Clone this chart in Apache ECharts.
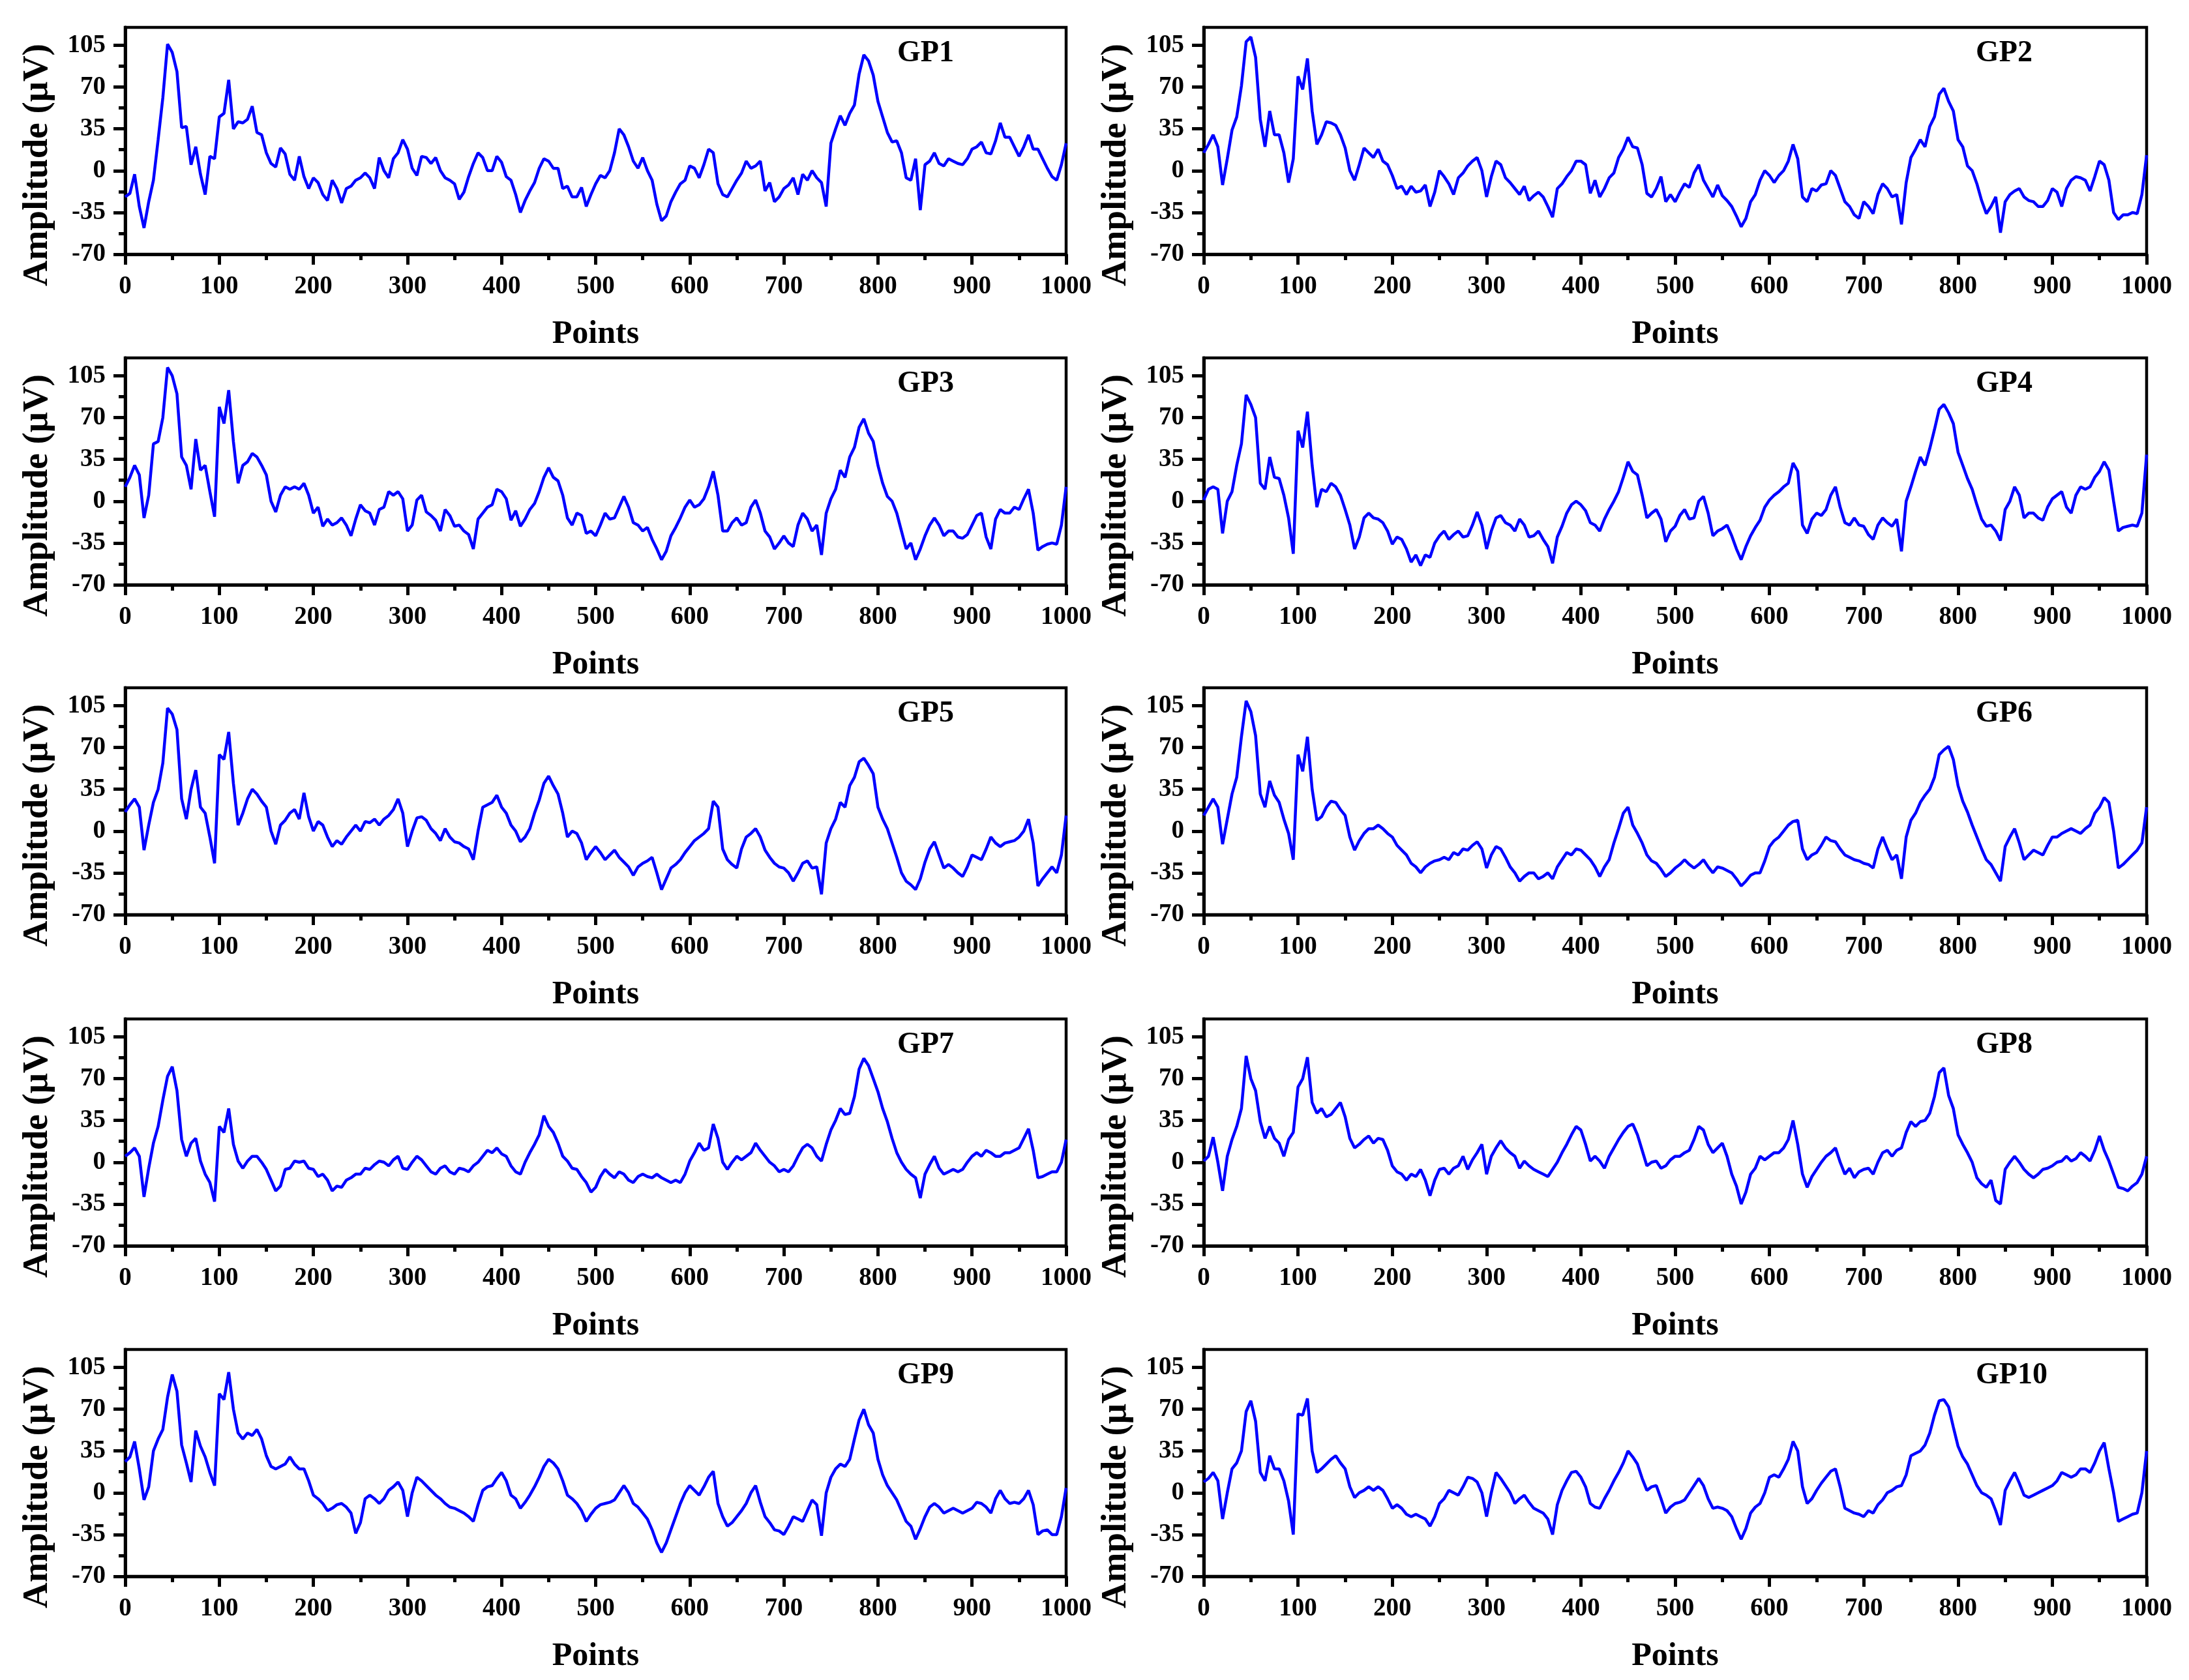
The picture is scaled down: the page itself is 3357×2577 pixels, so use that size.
<!DOCTYPE html>
<html>
<head>
<meta charset="utf-8">
<script src="https://cdn.jsdelivr.net/npm/echarts@6.0.0/dist/echarts.min.js"></script>
<style>
html,body{margin:0;padding:0;background:#fff;}
#chart{width:3357px;height:2577px;}
</style>
</head>
<body>
<div id="chart"></div>
<script>
// ---------- DATA ----------
const POINTS = [0,5,10,15,20,25,30,35,40,45,50,55,60,65,70,75,80,85,90,95,
100,105,110,115,120,125,130,135,140,145,150,155,160,165,170,175,180,185,190,195,
200,205,210,215,220,225,230,235,240,245,250,255,260,265,270,275,280,285,290,295,
300,305,310,315,320,325,330,335,340,345,350,355,360,365,370,375,380,385,390,395,
400,405,410,415,420,425,430,435,440,445,450,455,460,465,470,475,480,485,490,495,
500,505,510,515,520,525,530,535,540,545,550,555,560,565,570,575,580,585,590,595,
600,605,610,615,620,625,630,635,640,645,650,655,660,665,670,675,680,685,690,695,
700,705,710,715,720,725,730,735,740,745,750,755,760,765,770,775,780,785,790,795,
800,805,810,815,820,825,830,835,840,845,850,855,860,865,870,875,880,885,890,895,
900,905,910,915,920,925,930,935,940,945,950,955,960,965,970,975,980,985,990,995,
1000];

const TITLES = ['GP1','GP2','GP3','GP4','GP5','GP6','GP7','GP8','GP9','GP10'];
const Y_MAJOR = [-70,-35,0,35,70,105];
const Y_MINOR = [-52.5,-17.5,17.5,52.5,87.5];

const GP1 = [
-22,-19,-3,-30,-48,-26,-8,26,61,106,99,83,36,37,5,20,-3,-20,12,10,
45,48,76,35,41,40,43,54,32,30,15,6,3,19,14,-3,-8,12,-5,-15,
-6,-10,-20,-25,-8,-15,-27,-15,-13,-8,-6,-2,-6,-15,11,0,-6,10,15,26,
18,2,-4,12,11,6,11,0,-6,-8,-11,-24,-18,-5,6,15,11,0,0,12,
7,-5,-8,-20,-35,-25,-17,-10,2,10,8,2,2,-15,-13,-22,-22,-14,-30,-20,
-11,-4,-6,0,15,35,30,20,8,2,11,0,-8,-28,-42,-38,-26,-18,-11,-8,
4,2,-6,5,18,15,-11,-20,-22,-15,-8,-2,8,2,4,8,-17,-10,-26,-22,
-15,-12,-6,-20,-3,-8,0,-6,-10,-30,23,35,46,38,48,55,81,97,92,80,
58,45,32,24,25,15,-6,-8,10,-33,5,8,15,6,4,10,8,6,5,10,
18,20,24,15,14,25,40,28,28,20,12,20,30,18,18,10,2,-5,-8,5,
23];
const GP2 = [
15,22,30,20,-12,10,34,45,71,108,112,95,43,20,50,30,30,15,-10,10,
79,68,94,50,22,30,41,40,38,30,19,0,-8,5,19,15,11,18,8,5,
-4,-15,-13,-20,-13,-18,-17,-12,-30,-18,0,-5,-11,-20,-6,-2,4,8,11,0,
-22,-5,8,5,-6,-10,-15,-20,-13,-25,-21,-18,-22,-30,-39,-15,-11,-5,0,8,
8,5,-19,-8,-22,-15,-6,-2,11,18,28,20,19,5,-19,-22,-15,-5,-26,-20,
-26,-18,-11,-14,-2,5,-8,-15,-22,-12,-21,-25,-30,-38,-47,-40,-26,-20,-8,0,
-4,-10,-4,0,8,22,10,-22,-26,-15,-17,-12,-11,0,-4,-15,-26,-30,-37,-40,
-26,-30,-36,-20,-11,-15,-22,-20,-45,-10,11,18,26,20,37,45,64,69,58,50,
26,20,4,0,-11,-25,-36,-30,-22,-52,-26,-20,-17,-15,-22,-25,-26,-30,-30,-25,
-15,-18,-30,-15,-8,-5,-6,-8,-17,-5,8,5,-8,-35,-41,-37,-37,-35,-36,-20,
13];
const GP3 = [
12,20,30,22,-14,5,48,50,70,112,105,90,37,30,10,52,26,30,8,-13,
79,65,93,50,15,30,33,40,37,30,22,0,-9,5,12,10,12,10,15,5,
-10,-5,-21,-15,-20,-18,-14,-20,-29,-15,-3,-8,-10,-20,-7,-5,8,5,8,2,
-25,-20,1,5,-9,-12,-16,-25,-7,-12,-21,-20,-25,-28,-40,-15,-10,-5,-3,10,
8,2,-16,-8,-21,-15,-7,-2,8,20,28,20,17,5,-14,-20,-10,-12,-27,-25,
-29,-20,-10,-15,-14,-5,4,-5,-18,-20,-25,-22,-32,-40,-49,-42,-29,-22,-14,-5,
1,-5,-3,2,12,25,5,-25,-25,-18,-14,-20,-18,-5,1,-10,-25,-30,-40,-35,
-29,-35,-38,-20,-10,-15,-25,-20,-45,-10,2,10,26,20,37,45,62,69,57,50,
30,15,4,0,-10,-25,-40,-35,-49,-40,-29,-20,-14,-20,-29,-25,-25,-30,-31,-28,
-20,-12,-10,-30,-40,-15,-7,-10,-10,-5,-7,2,10,-10,-41,-38,-36,-35,-36,-20,
12];
const GP4 = [
1,10,12,10,-27,0,8,30,48,89,81,70,15,10,37,20,19,5,-14,-44,
59,45,75,30,-5,10,8,15,12,5,-7,-20,-40,-30,-14,-10,-14,-15,-18,-25,
-36,-30,-32,-40,-51,-45,-54,-45,-47,-35,-29,-25,-32,-28,-25,-30,-29,-20,-9,-20,
-40,-25,-14,-12,-18,-20,-25,-15,-20,-30,-29,-25,-32,-38,-52,-30,-21,-10,-3,0,
-3,-8,-18,-20,-25,-15,-7,0,8,20,33,25,22,5,-14,-10,-7,-15,-34,-25,
-21,-12,-7,-15,-14,0,4,-10,-29,-25,-23,-20,-29,-40,-49,-38,-29,-22,-16,-5,
1,5,8,12,15,32,25,-20,-27,-15,-10,-12,-7,5,12,-5,-18,-20,-14,-20,
-21,-28,-32,-20,-14,-18,-21,-15,-42,0,12,25,37,30,44,60,77,81,74,65,
41,30,19,10,-3,-15,-21,-20,-25,-33,-7,0,12,5,-14,-10,-10,-14,-16,-5,
2,5,8,-5,-10,5,12,10,12,20,25,33,26,0,-25,-22,-21,-20,-21,-10,
39];
const GP5 = [
16,22,27,20,-16,5,24,35,57,103,98,85,27,10,35,51,20,15,-5,-27,
64,60,83,40,5,15,27,35,31,25,20,0,-11,5,9,15,18,10,32,12,
0,8,5,-5,-13,-8,-11,-5,0,5,0,8,7,10,5,10,13,18,27,15,
-13,0,11,12,9,2,-2,-8,2,-5,-9,-10,-13,-15,-24,0,20,22,24,30,
20,15,5,0,-9,-5,2,15,26,40,46,38,31,15,-5,0,-2,-10,-24,-18,
-13,-18,-24,-20,-16,-22,-26,-30,-37,-30,-27,-25,-22,-35,-49,-40,-31,-28,-24,-18,
-13,-8,-5,-2,2,25,20,-15,-24,-28,-31,-15,-5,-2,2,-5,-16,-22,-27,-30,
-31,-35,-42,-35,-27,-25,-31,-30,-53,-10,2,10,24,20,38,45,58,61,55,48,
20,10,2,-10,-22,-35,-42,-45,-49,-40,-26,-15,-9,-20,-31,-28,-31,-35,-38,-30,
-20,-22,-24,-15,-5,-10,-13,-10,-9,-8,-5,0,10,-10,-46,-40,-35,-30,-35,-20,
13];
const GP6 = [
13,20,27,20,-11,10,31,45,79,109,100,80,31,20,42,30,24,10,-2,-24,
64,50,79,35,9,12,20,25,24,18,13,-5,-16,-8,-2,2,2,5,2,-2,
-5,-12,-16,-20,-27,-30,-35,-30,-27,-25,-24,-22,-24,-18,-20,-15,-16,-12,-9,-15,
-31,-20,-13,-15,-22,-30,-35,-42,-38,-35,-35,-40,-38,-35,-40,-30,-24,-18,-20,-15,
-16,-20,-24,-30,-38,-30,-24,-10,2,15,20,5,-2,-10,-20,-25,-27,-32,-38,-35,
-31,-28,-24,-28,-31,-28,-24,-30,-35,-30,-31,-33,-35,-40,-46,-42,-37,-35,-35,-25,
-13,-8,-5,0,5,8,9,-15,-24,-20,-18,-12,-5,-8,-9,-15,-20,-22,-24,-25,
-27,-28,-31,-15,-5,-15,-24,-20,-40,-5,9,15,24,30,35,45,64,68,71,60,
38,25,16,5,-5,-15,-24,-28,-35,-42,-13,-5,2,-10,-24,-20,-16,-18,-20,-12,
-5,-5,-2,0,2,0,-2,2,5,15,20,28,24,0,-31,-28,-24,-20,-16,-10,
20];
const GP7 = [
5,8,12,5,-29,-5,16,30,52,72,80,60,19,5,16,20,1,-10,-17,-33,
30,25,45,15,1,-5,1,5,5,0,-6,-15,-24,-20,-6,-5,1,0,1,-5,
-6,-12,-10,-15,-24,-20,-21,-15,-13,-10,-10,-5,-6,-2,1,0,-3,2,5,-5,
-6,0,5,2,-3,-8,-10,-5,-3,-8,-10,-5,-6,-8,-3,0,5,10,8,12,
7,5,-3,-8,-10,0,8,15,23,39,30,25,16,5,1,-5,-6,-12,-17,-25,
-21,-12,-6,-10,-13,-8,-10,-15,-17,-12,-10,-12,-13,-10,-13,-15,-17,-15,-17,-10,
1,8,16,10,12,32,20,0,-6,0,5,2,5,8,16,10,5,0,-3,-8,
-6,-8,-3,5,12,15,12,5,1,15,27,35,45,40,41,55,78,87,81,70,
59,45,34,20,8,0,-6,-10,-13,-30,-10,-2,5,-5,-10,-8,-6,-8,-6,0,
5,8,5,10,8,5,5,8,8,10,12,20,28,10,-13,-12,-10,-8,-8,0,
19];
const GP8 = [
1,5,21,0,-24,5,19,30,45,89,70,60,34,20,30,20,16,5,19,25,
63,70,88,50,41,45,38,40,45,50,38,20,12,15,19,22,16,20,19,10,
-3,-8,-10,-15,-10,-12,-6,-15,-28,-15,-6,-5,-10,-5,-3,5,-6,2,8,15,
-10,5,12,18,12,8,5,-5,1,-3,-6,-8,-10,-12,-6,0,8,15,23,30,
27,15,1,5,1,-5,5,12,19,25,30,32,23,10,-3,0,1,-5,-3,2,
5,5,8,10,19,30,27,15,8,12,16,5,-10,-20,-35,-25,-10,-5,5,2,
5,8,8,12,19,35,15,-10,-21,-12,-6,0,5,8,12,0,-10,-5,-13,-8,
-6,-5,-10,0,8,10,5,10,12,25,34,30,34,35,41,55,75,79,56,45,
23,15,8,0,-13,-18,-21,-15,-32,-35,-6,0,5,0,-6,-10,-13,-10,-6,-5,
-3,0,1,5,1,3,8,5,1,10,22,10,1,-10,-21,-22,-24,-20,-17,-10,
5];
const GP9 = [
26,30,43,20,-6,5,35,45,53,80,99,85,40,25,9,52,39,30,17,6,
83,78,101,70,50,45,50,48,53,45,31,22,20,22,24,30,24,20,20,10,
-2,-5,-9,-15,-13,-10,-9,-12,-17,-34,-25,-5,-2,-5,-9,-5,2,5,9,2,
-20,0,13,10,6,2,-2,-5,-9,-12,-13,-15,-17,-20,-24,-10,2,5,6,12,
17,10,-2,-5,-13,-8,-2,5,13,22,28,25,20,10,-2,-5,-9,-15,-24,-18,
-13,-10,-9,-8,-6,0,6,0,-9,-12,-17,-22,-31,-42,-50,-42,-31,-20,-9,0,
6,2,-2,5,13,18,-9,-20,-28,-25,-20,-15,-9,0,6,-8,-20,-25,-31,-32,
-35,-28,-20,-22,-24,-15,-6,-10,-36,0,13,20,24,22,28,45,61,70,57,50,
28,15,6,0,-6,-15,-24,-28,-39,-30,-20,-12,-9,-12,-17,-15,-13,-15,-17,-15,
-13,-8,-9,-12,-17,-5,2,-5,-9,-8,-9,-5,2,-10,-35,-32,-31,-35,-35,-20,
4];
const GP10 = [
9,12,17,10,-22,0,20,25,35,68,77,60,17,10,31,20,20,10,-7,-35,
66,65,79,35,17,20,24,28,31,25,20,5,-4,0,2,5,2,5,2,-5,
-13,-10,-13,-18,-20,-18,-20,-22,-28,-20,-9,-5,2,0,-2,5,13,12,9,0,
-20,0,17,12,6,0,-9,-5,-2,-8,-13,-15,-17,-22,-35,-10,2,10,17,18,
13,5,-9,-12,-13,-5,2,10,17,25,35,30,24,12,2,5,6,-5,-17,-12,
-9,-8,-6,0,6,12,6,-5,-13,-12,-13,-15,-20,-30,-39,-30,-17,-12,-9,0,
13,15,13,20,28,43,35,5,-9,-5,2,8,13,18,20,5,-13,-15,-17,-18,
-20,-15,-17,-10,-6,0,2,5,6,15,31,33,35,40,50,65,77,78,72,55,
39,30,24,15,6,0,-2,-5,-15,-27,2,10,17,8,-2,-4,-2,0,2,4,
6,10,17,15,13,15,20,20,17,25,35,42,20,0,-24,-22,-20,-18,-17,0,
35];

const SERIES = [GP1,GP2,GP3,GP4,GP5,GP6,GP7,GP8,GP9,GP10];

// ---------- LAYOUT ----------
const COL_LEFT = [192, 1846];
const COL_WIDTH = [1443, 1446];
const ROW_TOP = [42, 549, 1055, 1563, 2070];
const GRID_H = 348;
const FONT = "'Liberation Serif','Times New Roman',serif";

const grids = [], xAxes = [], yAxes = [], series = [], titles = [];
for (let i = 0; i < SERIES.length; i++) {
  const row = Math.floor(i / 2), col = i % 2;
  grids.push({
    left: COL_LEFT[col], top: ROW_TOP[row], width: COL_WIDTH[col], height: GRID_H,
    show: true, borderColor: '#000', borderWidth: 4.5, backgroundColor: 'transparent'
  });
  xAxes.push({
    gridIndex: i, type: 'value', min: 0, max: 1000, interval: 100,
    axisLine: { show: true, onZero: false, lineStyle: { color: '#000', width: 5 } },
    axisTick: { show: true, inside: false, length: 16, lineStyle: { color: '#000', width: 5 } },
    minorTick: { show: true, splitNumber: 2, length: 9, lineStyle: { color: '#000', width: 5 } },
    splitLine: { show: false }, minorSplitLine: { show: false },
    axisLabel: { fontFamily: FONT, fontWeight: 'bold', fontSize: 39, color: '#000', margin: 30,
                 formatter: v => String(v) },
    name: 'Points', nameLocation: 'middle', nameGap: 98,
    nameTextStyle: { fontFamily: FONT, fontWeight: 'bold', fontSize: 50, color: '#000' }
  });
  yAxes.push({
    gridIndex: i, type: 'value', min: -70, max: 120, position: 'left',
    axisLine: { show: true, onZero: false, lineStyle: { color: '#000', width: 5 } },
    axisTick: { show: true, inside: false, length: 18, customValues: Y_MAJOR, lineStyle: { color: '#000', width: 5 } },
    splitLine: { show: false },
    axisLabel: { customValues: Y_MAJOR, fontFamily: FONT, fontWeight: 'bold', fontSize: 39, color: '#000', margin: 30,
                 formatter: v => String(v) },
    name: 'Amplitude (μV)', nameLocation: 'middle', nameRotate: 90, nameGap: 107,
    nameTextStyle: { fontFamily: FONT, fontWeight: 'bold', fontSize: 55, color: '#000', padding: [0, 74, 0, 0] }
  });
  yAxes.push({
    gridIndex: i, type: 'value', min: -70, max: 120, position: 'left', offset: 0,
    axisLine: { show: false },
    axisTick: { show: true, inside: false, length: 10, customValues: Y_MINOR, lineStyle: { color: '#000', width: 5 } },
    axisLabel: { show: false }, splitLine: { show: false }
  });
  series.push({
    type: 'line', xAxisIndex: i, yAxisIndex: 2 * i,
    data: POINTS.map((x, k) => [x, SERIES[i][k]]),
    showSymbol: false, symbol: 'none',
    lineStyle: { color: '#0000FF', width: 4.5 },
    itemStyle: { color: '#0000FF' },
    animation: false
  });
  titles.push({
    text: TITLES[i], left: COL_LEFT[col] + 1184, top: ROW_TOP[row] + 17, padding: 0,
    textStyle: { fontFamily: FONT, fontWeight: 'bold', fontSize: 46, color: '#000' }
  });
}

const chart = echarts.init(document.getElementById('chart'), null, { renderer: 'canvas', width: 3357, height: 2577 });
chart.setOption({
  backgroundColor: '#fff',
  animation: false,
  title: titles,
  grid: grids,
  xAxis: xAxes,
  yAxis: yAxes,
  series: series
});
</script>
</body>
</html>
